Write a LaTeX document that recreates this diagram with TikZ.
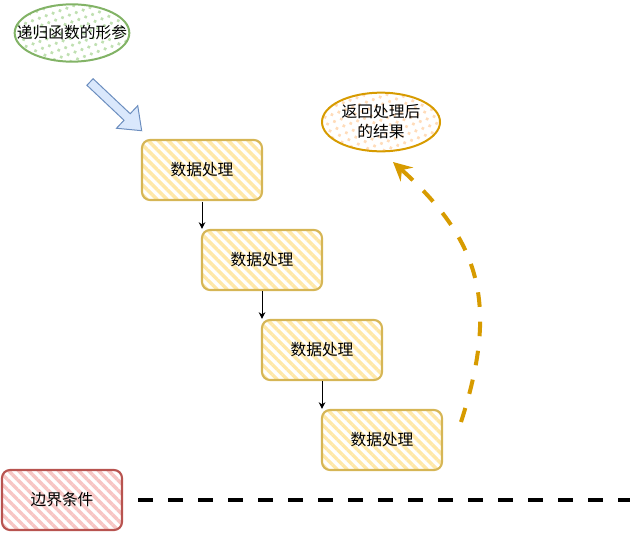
\documentclass[tikz,border=0pt]{standalone}
\usepackage{fontspec}
\newfontfamily\cjk{Noto Sans CJK SC}
\usetikzlibrary{arrows.meta,patterns.meta,shapes.geometric}
\definecolor{leafgreen}{RGB}{130,179,102}
\definecolor{leafdot}{RGB}{192,224,178}
\definecolor{skyfill}{RGB}{218,232,252}
\definecolor{skyline}{RGB}{108,142,191}
\definecolor{sandline}{RGB}{214,182,86}
\definecolor{sandfill}{RGB}{255,232,168}
\definecolor{amber}{RGB}{215,155,0}
\definecolor{amberdot}{RGB}{255,220,186}
\definecolor{roseline}{RGB}{184,84,80}
\definecolor{rosefill}{RGB}{247,198,196}

\begin{document}
\begin{tikzpicture}[x=0.75pt,y=-0.75pt,
    stepbox/.style={draw=sandline,line width=1.6pt,rounded corners=6pt,
      pattern={Lines[angle=-45,distance=5.3pt,line width=2.6pt]},pattern color=sandfill,
      minimum width=90pt,minimum height=45pt,font=\cjk\fontsize{11.8}{14}\selectfont},
    dotcloud/.style={ellipse,line width=1.5pt,align=center,inner sep=0pt,
      pattern={Dots[distance=5.5pt,radius=1.4pt,angle=20]},
      font=\cjk\fontsize{11.8}{15}\selectfont},
    flow/.style={-{Stealth[length=5pt,width=5pt,inset=1.5pt]},line width=0.75pt}]
        \useasboundingbox (0,0) rectangle (630,532);
        \node[dotcloud,draw=leafgreen,pattern color=leafdot,inner xsep=-11pt,minimum width=86pt,minimum height=43pt] (param) at (72,33) {递归函数的形参};
        \node[dotcloud,draw=amber,pattern color=amberdot,minimum width=88.5pt,minimum height=44pt] (result) at (381,122) {返回处理后\\的结果};
        \foreach \i/\x/\y in {1/202/170,2/262/260,3/322/350,4/382/440}{
          \node[stepbox] (p\i) at (\x,\y) {数据处理};
        }
        \foreach \i/\j in {1/2,2/3,3/4}{
          \draw[flow] (p\i.south) -- (p\i.south |- p\j.north);
        }
        \node[stepbox,draw=roseline,pattern color=rosefill] (base) at (62,500) {边界条件};
        \begin{scope}[shift={(90,82)},rotate=-43.3]
          \filldraw[fill=skyfill,draw=skyline,line width=0.75pt,line join=miter]
            (0,4.5) -- (51,4.5) -- (51,15.5) -- (71,0) -- (51,-15.5) -- (51,-4.5) -- (0,-4.5) -- cycle;
        \end{scope}
        \coordinate (backfrom) at (461,422);
        \coordinate (backto) at (393,162);
        \draw[amber,line width=3pt,dash pattern=on 11pt off 11pt,
          -{Stealth[length=14pt,width=14pt,inset=5pt]}]
          (backfrom) .. controls (498,307) and (483,243) .. (backto);
        \coordinate (edge) at (630,500);
        \draw[line width=3pt,dash pattern=on 11.25pt off 11.25pt] ([xshift=11.25pt]base.east) -- (edge);
      \end{tikzpicture}
\end{document}
